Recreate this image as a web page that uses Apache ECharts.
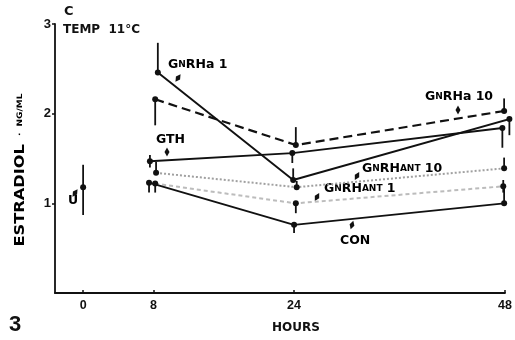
<!DOCTYPE html>
<html>
<head>
<meta charset="utf-8">
<script src="https://cdn.jsdelivr.net/npm/echarts@6/dist/echarts.min.js"></script>
<style>html,body{margin:0;padding:0;background:#fff}#c{width:515px;height:340px}</style>
</head>
<body>
<div id="c"></div>
<script>
// Data (hours, estradiol ng/ml, error bar low/high)
const xTicks = [0, 8, 24, 48];
const yTicks = [1, 2, 3];

const gnrha1Hours = [8.5, 23.9, 48.5];
const gnrha1Vals  = [2.46, 1.26, 1.94];
const gnrha1Err   = [[2.46, 2.79], [1.26, 1.39], [1.76, 1.94]];

const gnrha10Hours = [8.2, 24.2, 47.9];
const gnrha10Vals  = [2.16, 1.65, 2.03];
const gnrha10Err   = [[1.87, 2.16], [1.65, 1.85], [2.03, 2.17]];

const gthHours = [7.6, 23.8, 47.7];
const gthVals  = [1.47, 1.56, 1.84];
const gthErr   = [[1.40, 1.54], [1.45, 1.56], [1.62, 1.84]];

const ant10Hours = [8.3, 24.3, 47.9];
const ant10Vals  = [1.34, 1.18, 1.39];
const ant10Err   = [[1.34, 1.46], [1.18, 1.25], [1.39, 1.51]];

const ant1Hours = [8.2, 24.2, 47.8];
const ant1Vals  = [1.22, 1.00, 1.19];
const ant1Err   = [[1.12, 1.22], [0.89, 1.00], [1.12, 1.26]];

const conHours = [7.5, 24.0, 47.9];
const conVals  = [1.23, 0.76, 1.00];
const conErr   = [[1.12, 1.23], [0.67, 0.76], [1.00, 1.19]];

const uHours = [0];
const uVals  = [1.18];
const uErr   = [[0.87, 1.43]];

const FONT = '"Liberation Sans", Arial, sans-serif';
const WFONT = '"DejaVu Sans", sans-serif';

function pts(h, v) { return h.map((x, i) => [x, v[i]]); }
function errData(h, e) { return h.map((x, i) => [x, e[i][0], e[i][1]]); }

function lineSeries(name, h, v, style) {
  return {
    name: name, type: 'line', data: pts(h, v), clip: false,
    symbol: 'circle', symbolSize: style.sym, showSymbol: true,
    itemStyle: { color: style.symColor || '#111' },
    lineStyle: { color: style.color, width: style.width, type: style.type },
    z: style.z || 3, silent: true, animation: false
  };
}
function errSeries(h, e) {
  return {
    type: 'custom', data: errData(h, e), clip: false, silent: true, animation: false, z: 4,
    renderItem: function (params, api) {
      const a = api.coord([api.value(0), api.value(1)]);
      const b = api.coord([api.value(0), api.value(2)]);
      return { type: 'line', shape: { x1: a[0], y1: a[1], x2: b[0], y2: b[1] },
               style: { stroke: '#111', lineWidth: 1.8 } };
    }
  };
}

const chart = echarts.init(document.getElementById('c'), null, { renderer: 'canvas' });

function diamond(x, y, rot) {
  return { type: 'polygon', x: x, y: y, rotation: rot, silent: true,
           shape: { points: [[0, -4.5], [2.5, 0], [0, 4.5], [-2.5, 0]] },
           style: { fill: '#111' } };
}
const rich = {
  a: { fontFamily: WFONT, fontWeight: 'bold', fontSize: 12.5, color: '#111' },
  b: { fontFamily: WFONT, fontWeight: 'bold', fontSize: 9, color: '#111' }
};
function label(x, y, text) {
  return { type: 'text', x: x, y: y, silent: true,
           style: { text: text, rich: rich, verticalAlign: 'middle', align: 'left' } };
}

chart.setOption({
  animation: false,
  grid: { left: 55, right: 10, top: 24, bottom: 47 },
  xAxis: {
    type: 'value', min: -3.2, max: 48,
    axisLine: { show: true, onZero: false, lineStyle: { color: '#111', width: 1.8 } },
    axisTick: { show: true, customValues: xTicks, inside: true, length: 3, lineStyle: { color: '#111', width: 1.5 } },
    axisLabel: { customValues: xTicks, fontFamily: FONT, fontWeight: 'bold', fontSize: 12.5, color: '#111', margin: 6 },
    splitLine: { show: false }
  },
  yAxis: {
    type: 'value', min: 0, max: 3,
    axisLine: { show: true, onZero: false, lineStyle: { color: '#111', width: 1.8 } },
    axisTick: { show: true, customValues: yTicks, length: 3, lineStyle: { color: '#111', width: 1.5 } },
    axisLabel: { customValues: yTicks, fontFamily: FONT, fontWeight: 'bold', fontSize: 13, color: '#111', margin: 4 },
    splitLine: { show: false }
  },
  series: [
    lineSeries('GnRHant 10', ant10Hours, ant10Vals, { color: '#a0a0a0', width: 2, type: [2, 2], sym: 6, z: 2 }),
    lineSeries('GnRHant 1', ant1Hours, ant1Vals, { color: '#bcbcbc', width: 2, type: [4, 3], sym: 6, z: 2 }),
    lineSeries('GnRHa 1', gnrha1Hours, gnrha1Vals, { color: '#111', width: 1.9, type: 'solid', sym: 6 }),
    lineSeries('GnRHa 10', gnrha10Hours, gnrha10Vals, { color: '#111', width: 2.2, type: [9, 5], sym: 6 }),
    lineSeries('GTH', gthHours, gthVals, { color: '#111', width: 1.9, type: 'solid', sym: 6 }),
    lineSeries('CON', conHours, conVals, { color: '#111', width: 1.9, type: 'solid', sym: 6 }),
    lineSeries('U', uHours, uVals, { color: '#111', width: 1.9, type: 'solid', sym: 6 }),
    errSeries(gnrha1Hours, gnrha1Err),
    errSeries(gnrha10Hours, gnrha10Err),
    errSeries(gthHours, gthErr),
    errSeries(ant10Hours, ant10Err),
    errSeries(ant1Hours, ant1Err),
    errSeries(conHours, conErr),
    errSeries(uHours, uErr)
  ],
  graphic: [
    { type: 'text', x: 64, y: 12, silent: true, style: { text: 'C', font: 'bold 13px ' + WFONT, fill: '#111', verticalAlign: 'middle' } },
    { type: 'text', x: 63, y: 30, silent: true, style: { text: 'TEMP  11°C', font: 'bold 12px ' + WFONT, fill: '#111', verticalAlign: 'middle' } },
    { type: 'text', x: 9, y: 325, silent: true, style: { text: '3', font: 'bold 22px ' + FONT, fill: '#111', verticalAlign: 'middle' } },
    { type: 'text', x: 296, y: 328, silent: true, style: { text: 'HOURS', font: 'bold 12px ' + WFONT, fill: '#111', verticalAlign: 'middle', align: 'center' } },
    { type: 'text', x: 20, y: 170, rotation: Math.PI / 2, scaleX: 1.2, silent: true,
      style: { text: '{a|ESTRADIOL}  {b|·  NG/ML}', align: 'center', verticalAlign: 'middle',
               rich: { a: { fontFamily: WFONT, fontWeight: 'bold', fontSize: 13.5, color: '#111' },
                       b: { fontFamily: WFONT, fontWeight: 'bold', fontSize: 7.5, color: '#111' } } } },
    label(168, 65, '{a|G}{b|N}{a|RHa 1}'),
    diamond(178, 78, -0.6),
    label(425, 97, '{a|G}{b|N}{a|RHa 10}'),
    diamond(458, 110, 0),
    label(156, 140, '{a|GTH}'),
    diamond(167, 152, 0),
    label(362, 169, '{a|G}{b|N}{a|RH}{b|ANT}{a| 10}'),
    diamond(357, 176, -0.5),
    label(324, 189, '{a|G}{b|N}{a|RH}{b|ANT}{a| 1}'),
    diamond(317, 197, -0.5),
    label(340, 241, '{a|CON}'),
    diamond(352, 225, -0.3),
    label(68, 201, '{a|U}'),
    diamond(75, 193, -0.6)
  ]
});
</script>
</body>
</html>
